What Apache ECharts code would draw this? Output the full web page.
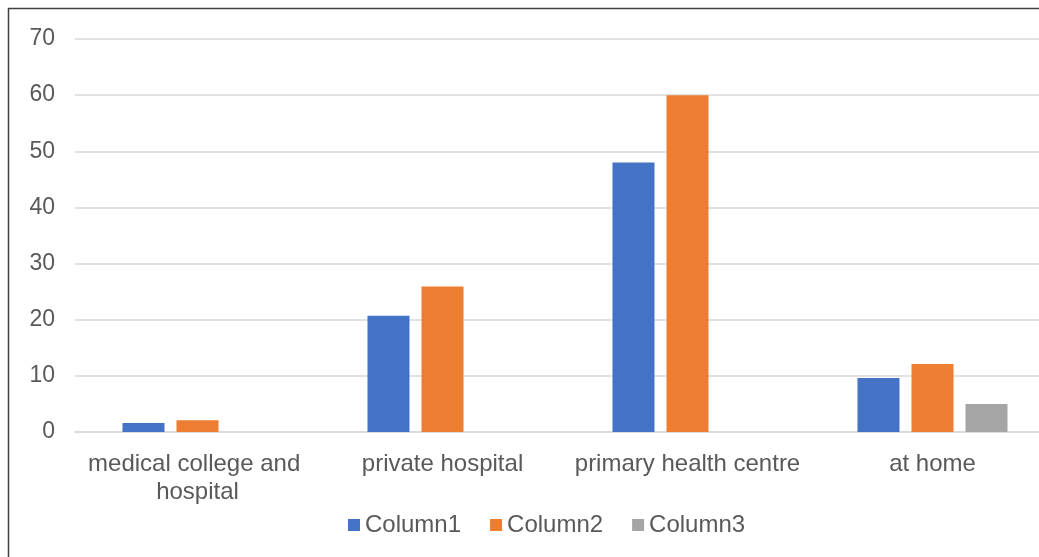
<!DOCTYPE html>
<html>
<head>
<meta charset="utf-8">
<script src="https://cdn.jsdelivr.net/npm/echarts@6/dist/echarts.min.js"></script>
<style>
  html, body { margin: 0; padding: 0; background: #fff; }
  #main { width: 1039px; height: 557px; }
</style>
</head>
<body>
<div id="main"></div>
<script>
var myChart = echarts.init(document.getElementById('main'));

var categories = ['medical college and hospital', 'private hospital', 'primary health centre', 'at home'];
var column1 = [1.6, 20.7, 48, 9.6];
var column2 = [2.1, 25.9, 60, 12.1];
var column3 = [0, 0, 0, 5];
var seriesNames = ['Column1', 'Column2', 'Column3'];
var myColor = ['#4472C4', '#ED7D31', '#A5A5A5'];

var textColor = '#595959';
var fontName = 'Liberation Sans';

var option = {
    color: myColor,
    textStyle: { fontFamily: fontName },
    grid: {
        left: 75,
        width: 980,
        top: 39,
        bottom: 125,
        containLabel: false,
        outerBoundsMode: 'none'
    },
    graphic: [{
        type: 'rect',
        shape: { x: 8.5, y: 8.5, width: 1100, height: 600 },
        style: { fill: 'none', stroke: '#404040', lineWidth: 1.5 },
        silent: true
    }],
    legend: {
        left: 343,
        top: 508,
        itemWidth: 12,
        itemHeight: 12,
        itemGap: 29,
        icon: 'rect',
        textStyle: { fontSize: 24, color: textColor, fontFamily: fontName },
        data: seriesNames
    },
    xAxis: {
        type: 'category',
        data: categories,
        axisLine: { show: true, lineStyle: { color: '#d9d9d9', width: 1.5 } },
        axisTick: { show: false },
        axisLabel: {
            margin: 18,
            fontSize: 24,
            lineHeight: 28,
            color: textColor,
            fontFamily: fontName,
            width: 240,
            overflow: 'break',
            interval: 0
        }
    },
    yAxis: {
        type: 'value',
        min: 0,
        max: 70,
        interval: 10,
        axisLine: { show: false },
        axisTick: { show: false },
        splitLine: { lineStyle: { color: '#d9d9d9', width: 1.5 } },
        axisLabel: {
            margin: 20,
            fontSize: 23,
            color: textColor,
            fontFamily: fontName
        }
    },
    series: [{
        name: seriesNames[0],
        type: 'bar',
        data: column1,
        barWidth: 42,
        barGap: '28.6%'
    }, {
        name: seriesNames[1],
        type: 'bar',
        data: column2,
        barWidth: 42,
        barGap: '28.6%'
    }, {
        name: seriesNames[2],
        type: 'bar',
        data: column3,
        barWidth: 42,
        barGap: '28.6%'
    }]
};

myChart.setOption(option);
</script>
</body>
</html>
